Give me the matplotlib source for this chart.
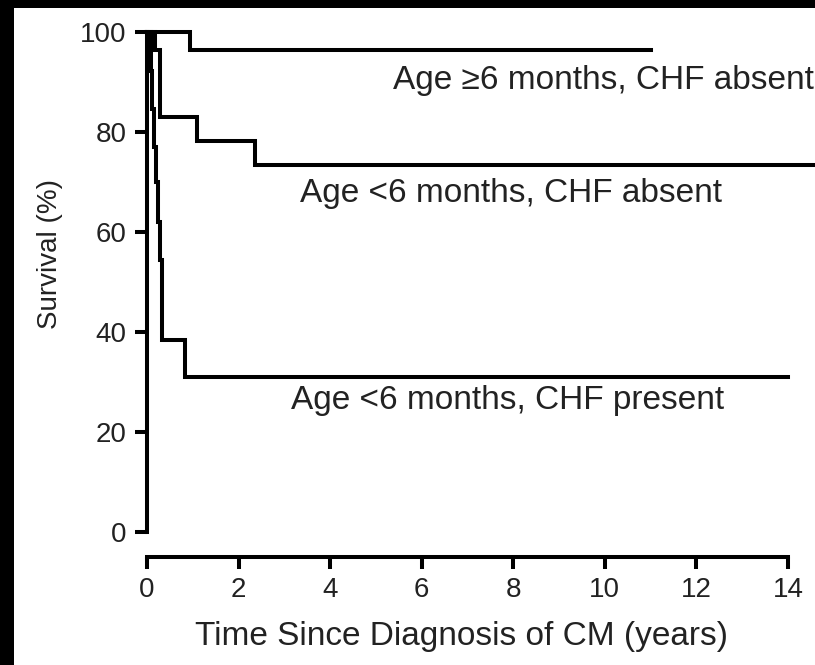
"""Kaplan-Meier style survival curves for CM by age group and CHF status."""
import matplotlib
matplotlib.use("Agg")
import matplotlib.pyplot as plt
from matplotlib.patches import Rectangle

plt.rcParams["font.family"] = ["Liberation Sans", "DejaVu Sans"]

# survival step data (time in years, survival in %), value holds from each time onward
older_absent_t = [0, 0.94, 11.0]
older_absent_s = [100, 96.5, 96.5]

young_absent_t = [0, 0.17, 0.28, 1.09, 2.35, 14.6]
young_absent_s = [100, 96.4, 83.0, 78.3, 73.5, 73.5]

young_present_t = [0, 0.08, 0.12, 0.16, 0.2, 0.24, 0.28, 0.33, 0.83, 14.0]
young_present_s = [100, 92.3, 84.6, 77.0, 70.0, 62.0, 54.5, 38.5, 31.0, 31.0]

curve_labels = [
    "Age \u22656 months, CHF absent",
    "Age <6 months, CHF absent",
    "Age <6 months, CHF present",
]

x_ticks = [0, 2, 4, 6, 8, 10, 12, 14]
y_ticks = [0, 20, 40, 60, 80, 100]

fig = plt.figure(figsize=(8.15, 6.65), dpi=100, facecolor="black")
# white page with black border on the left and top
fig.patches.append(Rectangle((14 / 815, 0), 1 - 14 / 815, 1 - 8 / 665,
                             transform=fig.transFigure, facecolor="white",
                             edgecolor="none", zorder=-10))

ax = fig.add_axes([147 / 815, 1 - 532 / 665, 641 / 815, 500 / 665])
ax.set_facecolor("none")

lw = 2.9
for t, s in [(older_absent_t, older_absent_s),
             (young_absent_t, young_absent_s),
             (young_present_t, young_present_s)]:
    ax.plot(t, s, drawstyle="steps-post", color="black", lw=lw,
            solid_joinstyle="miter", clip_on=False)

ax.set_xlim(0, 14)
ax.set_ylim(0, 100)
ax.set_xticks(x_ticks)
ax.set_yticks(y_ticks)

for side in ["top", "right"]:
    ax.spines[side].set_visible(False)
ax.spines["left"].set_linewidth(lw)
ax.spines["bottom"].set_linewidth(lw)
ax.spines["bottom"].set_position(("outward", 18))
ax.tick_params(axis="both", direction="out", length=8.5, width=lw,
               labelsize=20, colors="black", labelcolor="#222222", pad=6)

ax.set_xlabel("Time Since Diagnosis of CM (years)", fontsize=24,
              color="#222222")
ax.xaxis.set_label_coords(0.49, -0.177)
ax.set_ylabel("Survival (%)", fontsize=20, color="#222222")
ax.yaxis.set_label_coords(-0.131, 0.556)

text_kw = dict(fontsize=24, ha="left", va="center", color="#222222",
               clip_on=False)
ax.text(5.38, 90.3, curve_labels[0], **text_kw)
ax.text(3.34, 67.7, curve_labels[1], **text_kw)
ax.text(3.15, 26.3, curve_labels[2], **text_kw)

fig.savefig("out.png", dpi=100, facecolor=fig.get_facecolor())
